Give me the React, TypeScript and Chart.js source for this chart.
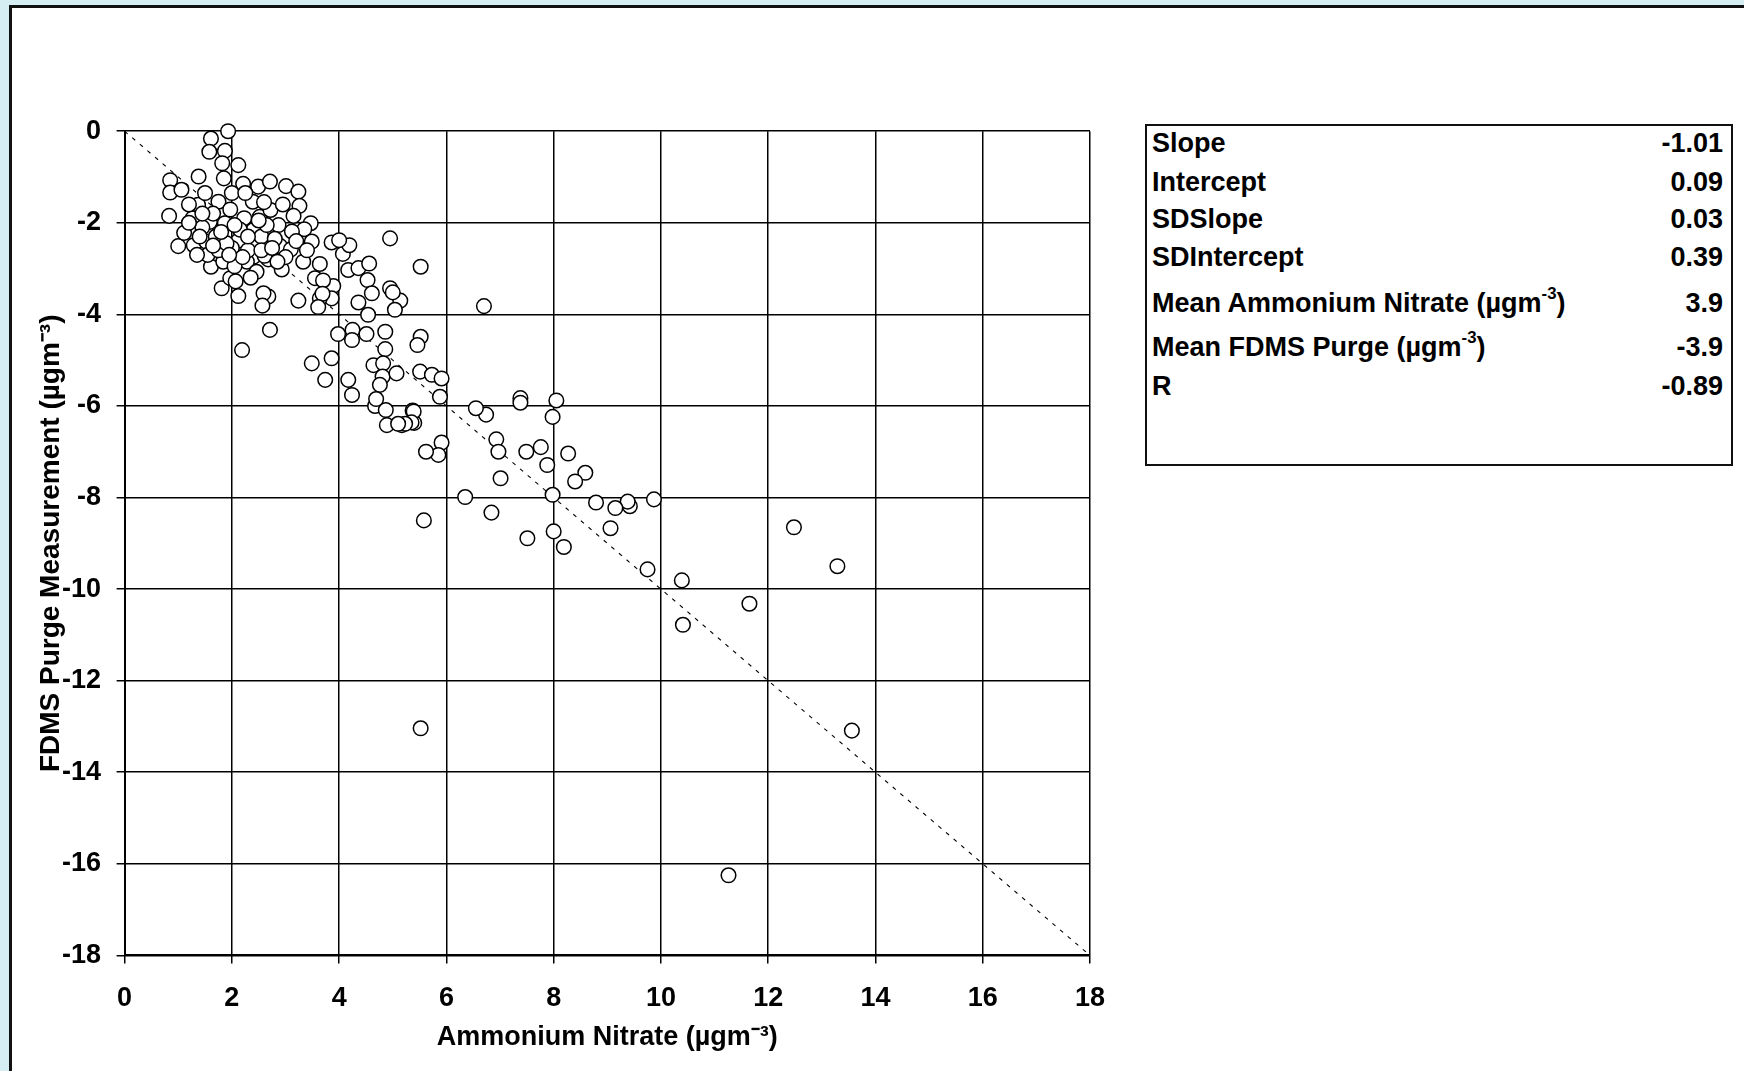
import React, { useEffect, useRef } from "react";
import { Chart, registerables } from "chart.js";

Chart.register(...registerables);

const nitrateX = [
  1.93, 1.61, 1.58, 1.87, 1.82, 2.12, 1.85, 0.85, 0.85, 1.06, 1.38, 0.83, 1.0, 1.11, 1.29, 1.27, 1.37, 1.52, 1.61, 1.75,
  1.59, 1.87, 1.84, 1.81, 1.97, 2.12, 2.19, 1.97, 2.21, 2.49, 2.71, 2.39, 2.23, 2.12, 2.4, 2.52, 2.72, 2.87, 2.43, 2.41,
  2.28, 2.46, 2.68, 2.9, 2.93, 3.01, 3.24, 3.26, 3.47, 3.35, 3.12, 3.1, 3.49, 3.33, 3.64, 3.55, 3.86, 4.07, 4.19, 4.95,
  5.52, 4.17, 4.36, 4.56, 4.53, 4.61, 4.95, 5.14, 5.04, 4.36, 3.89, 3.7, 3.86, 3.64, 3.24, 2.68, 2.59, 2.71, 3.49, 3.86,
  3.74, 4.17, 4.24, 3.98, 4.25, 4.24, 4.51, 4.86, 4.86, 5.52, 5.46, 4.64, 4.82, 4.81, 5.07, 5.51, 5.73, 5.91, 5.88, 4.76,
  6.7, 4.54, 4.0, 1.45, 1.7, 2.0, 2.3, 1.55, 2.05, 2.55, 1.2, 1.5, 2.6, 2.15, 1.75, 2.8, 2.35, 2.0, 2.65, 1.4,
  3.0, 3.15, 2.95, 1.65, 2.25, 1.9, 2.61, 2.57, 2.07, 3.69, 3.61, 5.0, 4.67, 4.87, 4.89, 5.17, 5.37, 5.4, 1.2, 1.45,
  1.8, 2.05, 2.3, 2.55, 2.75, 2.2, 1.95, 1.65, 2.85, 3.2, 3.4, 2.5, 1.35, 11.26, 13.56, 13.29, 12.48, 11.65, 10.41, 10.39,
  9.75, 9.87, 9.42, 9.38, 9.15, 9.06, 8.79, 8.59, 8.4, 8.27, 8.19, 8.0, 7.98, 8.05, 7.98, 7.88, 7.76, 7.51, 7.49, 7.38,
  7.38, 7.01, 6.93, 6.97, 6.84, 6.74, 6.55, 6.35, 5.91, 5.85, 5.62, 5.58, 5.52, 5.39, 5.35, 5.23, 5.1, 4.69,
];

const purgeY = [
  0.0, -0.16, -0.45, -0.43, -0.7, -0.74, -1.03, -1.07, -1.34, -1.28, -0.99, -1.85, -2.51, -2.22, -2.49, -1.9, -1.61, -2.41, -2.96, -1.54,
  -1.98, -2.01, -2.85, -3.43, -3.21, -3.6, -4.78, -1.71, -1.15, -1.21, -1.1, -1.54, -1.9, -2.39, -2.16, -1.87, -1.72, -2.05, -2.41, -2.74,
  -2.85, -3.07, -2.8, -2.51, -3.02, -1.2, -1.32, -1.63, -2.01, -2.14, -2.19, -2.58, -2.41, -2.85, -2.9, -3.21, -2.43, -2.68, -2.49, -2.34,
  -2.96, -3.03, -2.99, -2.89, -3.25, -3.54, -3.43, -3.7, -3.9, -3.74, -3.38, -3.26, -3.65, -3.65, -3.7, -3.61, -3.54, -4.34, -5.07, -4.96,
  -5.43, -5.43, -5.76, -4.43, -4.34, -4.56, -4.43, -4.38, -4.76, -4.49, -4.67, -5.11, -5.07, -5.36, -5.29, -5.25, -5.32, -5.4, -5.8, -5.54,
  -3.82, -4.01, -2.38, -2.1, -2.3, -2.55, -2.6, -2.7, -2.95, -2.3, -1.6, -1.35, -1.55, -2.15, -2.6, -2.35, -3.2, -1.35, -2.05, -2.3,
  -2.75, -1.85, -1.6, -1.8, -1.35, -2.45, -2.72, -3.81, -3.28, -3.55, -3.84, -3.52, -6.0, -6.09, -6.42, -6.42, -6.1, -6.37, -2.0, -1.8,
  -2.2, -2.05, -2.3, -2.6, -2.55, -2.75, -2.7, -2.5, -2.85, -2.4, -2.6, -1.95, -2.7, -16.25, -13.09, -9.5, -8.65, -10.32, -10.78, -9.81,
  -9.57, -8.04, -8.19, -8.09, -8.23, -8.67, -8.11, -7.46, -7.65, -7.04, -9.08, -8.74, -7.94, -5.88, -6.24, -7.29, -6.9, -8.89, -7.0, -5.83,
  -5.93, -7.58, -6.73, -7.0, -8.33, -6.19, -6.05, -7.99, -6.8, -7.07, -7.0, -8.5, -13.04, -6.12, -6.36, -6.39, -6.39, -5.85,
];

// 1:1 reference line (dashed)
const refLineX = [0, 18];
const refLineY = [0, -18];

// axis ranges / tick step
const xRange = [0, 18];
const yRange = [-18, 0];
const tickStep = 2;

const xTitle = "Ammonium Nitrate (µgm⁻³)";
const yTitle = "FDMS Purge Measurement (µgm⁻³)";

// statistics box ("|" separates the superscript part)
const statLabels = [
  "Slope",
  "Intercept",
  "SDSlope",
  "SDIntercept",
  "Mean Ammonium Nitrate (µgm|-3|)",
  "Mean FDMS Purge (µgm|-3|)",
  "R",
];
const statValues = ["-1.01", "0.09", "0.03", "0.39", "3.9", "-3.9", "-0.89"];

const FONT = "'Liberation Sans', Arial, Helvetica, sans-serif";
const W = 1744;
const H = 1071;
const AREA = { left: 124.6, right: 1090, top: 131.2, bottom: 955.4 };
const ROW_CENTERS = [141, 179.5, 217, 255, 300.5, 345, 384];

function Label({ text }: { text: string }) {
  const parts = text.split("|");
  if (parts.length < 3) return <>{text}</>;
  return (
    <>
      {parts[0]}
      <span style={{ fontSize: "0.62em", position: "relative", top: "-0.75em" }}>{parts[1]}</span>
      {parts[2]}
    </>
  );
}

export default function App() {
  const canvasRef = useRef<HTMLCanvasElement | null>(null);

  useEffect(() => {
    const canvas = canvasRef.current;
    if (!canvas) return;
    const tickFont = { family: FONT, size: 27, weight: "bold" as const };
    const chart = new Chart(canvas, {
      type: "scatter",
      data: {
        datasets: [
          {
            label: "Purge",
            data: nitrateX.map((x, i) => ({ x, y: purgeY[i] })),
            pointRadius: 7.3,
            pointHoverRadius: 7.3,
            pointBorderWidth: 1.5,
            pointBackgroundColor: "#ffffff",
            pointBorderColor: "#000000",
            clip: false as any,
            order: 1,
          },
          {
            label: "1:1",
            data: refLineX.map((x, i) => ({ x, y: refLineY[i] })),
            showLine: true,
            borderColor: "#000000",
            borderWidth: 1.1,
            borderDash: [4, 6],
            pointRadius: 0,
            order: 2,
          },
        ],
      },
      options: {
        responsive: false,
        animation: false,
        devicePixelRatio: 1,
        layout: {
          padding: { left: 0, top: AREA.top, right: W - AREA.right, bottom: 0 },
        },
        plugins: {
          legend: { display: false },
          tooltip: { enabled: false },
        },
        scales: {
          x: {
            type: "linear",
            min: xRange[0],
            max: xRange[1],
            ticks: {
              stepSize: tickStep,
              color: "#000",
              font: tickFont,
              padding: 19,
              maxRotation: 0,
            },
            grid: {
              color: "#000",
              lineWidth: 1.5,
              tickLength: 8,
              tickColor: "#000",
              tickWidth: 1.5,
            },
            border: { color: "#000", width: 2 },
            title: {
              display: true,
              text: xTitle,
              color: "#000",
              font: tickFont,
              padding: { top: 0, bottom: 17 },
            },
            afterFit: (s: any) => {
              s.height = H - AREA.bottom;
            },
          },
          y: {
            type: "linear",
            min: yRange[0],
            max: yRange[1],
            ticks: {
              stepSize: tickStep,
              color: "#000",
              font: tickFont,
              padding: 15.5,
            },
            grid: {
              color: "#000",
              lineWidth: 1.5,
              tickLength: 8,
              tickColor: "#000",
              tickWidth: 1.5,
            },
            border: { color: "#000", width: 2 },
            title: {
              display: true,
              text: yTitle,
              color: "#000",
              font: { family: FONT, size: 28, weight: "bold" as const },
              padding: { top: 34, bottom: 0 },
            },
            afterFit: (s: any) => {
              s.width = AREA.left;
            },
          },
        },
      },
    });
    return () => chart.destroy();
  }, []);

  return (
    <div
      style={{
        position: "fixed",
        left: 0,
        top: 0,
        width: W,
        height: H,
        overflow: "hidden",
        background: "#d5eef4",
      }}
    >
      <div
        style={{
          position: "absolute",
          left: 9,
          top: 5,
          width: W,
          height: H,
          background: "#ffffff",
          borderLeft: "3px solid #111",
          borderTop: "3px solid #111",
        }}
      />
      <canvas
        ref={canvasRef}
        width={W}
        height={H}
        style={{ position: "absolute", left: 0, top: 0, width: W, height: H }}
      />
      <div
        style={{
          position: "absolute",
          left: 1145,
          top: 124,
          width: 588,
          height: 342,
          border: "2px solid #111",
          boxSizing: "border-box",
          background: "#fff",
          fontFamily: FONT,
          fontWeight: "bold",
          fontSize: 27,
          color: "#000",
        }}
      >
        {statLabels.map((lab, i) => (
          <div
            key={lab}
            style={{
              position: "absolute",
              left: 5,
              right: 8,
              top: ROW_CENTERS[i] - 124 - 16,
              height: 32,
              lineHeight: "32px",
              whiteSpace: "nowrap",
            }}
          >
            <span style={{ position: "absolute", left: 0 }}>
              <Label text={lab} />
            </span>
            <span style={{ position: "absolute", right: 0 }}>{statValues[i]}</span>
          </div>
        ))}
      </div>
    </div>
  );
}
